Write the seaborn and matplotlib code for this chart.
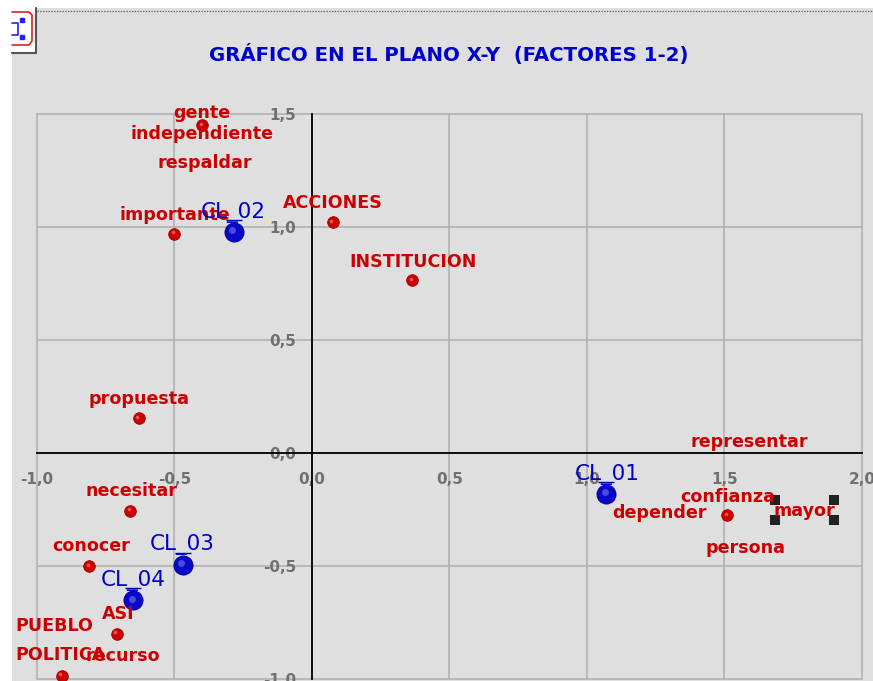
import pandas as pd
import numpy as np
import matplotlib.pyplot as plt
import matplotlib.patches as patches
from matplotlib.transforms import ScaledTranslation
import seaborn as sns

W, H = 873, 681

titulo = "GRÁFICO EN EL PLANO X-Y  (FACTORES 1-2)"

x_ticks = [-1.0, -0.5, 0.0, 0.5, 1.0, 1.5, 2.0]
y_ticks = [-1.0, -0.5, 0.0, 0.5, 1.0, 1.5]
x_tick_labels = ["-1,0", "-0,5", "0,0", "0,5", "1,0", "1,5", "2,0"]
y_tick_labels = ["-1,0", "-0,5", "0,0", "0,5", "1,0", "1,5"]

# puntos rojos (palabras)
pal_x = [-0.40, -0.50, 0.075, 0.365, -0.63, -0.66, -0.81, -0.71, -0.91, 1.51]
pal_y = [1.45, 0.97, 1.02, 0.765, 0.155, -0.255, -0.50, -0.80, -0.985, -0.275]

# puntos azules (clusters)
cl_x = [1.07, -0.285, -0.47, -0.65]
cl_y = [-0.18, 0.98, -0.495, -0.65]

# etiquetas rojas
pal_labels = ["gente", "independiente", "respaldar", "importante", "ACCIONES",
              "INSTITUCION", "propuesta", "representar", "confianza", "depender",
              "mayor", "persona", "necesitar", "conocer", "ASI", "PUEBLO",
              "POLITICA", "recurso"]
pal_lx = [-0.40, -0.40, -0.39, -0.498, 0.076, 0.367, -0.629, 1.589, 1.513, 1.265,
          1.789, 1.575, -0.658, -0.804, -0.705, -0.938, -0.913, -0.687]
pal_ly = [1.503, 1.41, 1.283, 1.053, 1.106, 0.845, 0.239, 0.049, -0.195, -0.265,
          -0.257, -0.42, -0.168, -0.412, -0.712, -0.765, -0.894, -0.898]

# etiquetas azules
cl_labels = ["CL_01", "CL_02", "CL_03", "CL_04"]
cl_lx = [1.073, -0.287, -0.473, -0.651]
cl_ly = [-0.093, 1.062, -0.407, -0.562]

# marcas negras de seleccion
sel_x = [1.684, 1.898, 1.684, 1.898]
sel_y = [-0.208, -0.208, -0.296, -0.296]

GRIS = "#DFDFDF"
ROJO = "#CC0000"
AZUL = "#0000CC"

sns.set_theme(style="whitegrid", rc={"axes.facecolor": GRIS, "grid.color": "#B2B2B2",
                                     "grid.linewidth": 1.2, "axes.edgecolor": "black"})
plt.rcParams["font.family"] = ["DejaVu Sans"]
plt.rcParams["font.weight"] = "bold"

fig = plt.figure(figsize=(W / 100, H / 100), dpi=100, facecolor="white")

# fondo y boton, en pixeles
bg = fig.add_axes([0, 0, 1, 1], zorder=0)
bg.set_xlim(0, W)
bg.set_ylim(H, 0)
bg.axis("off")
bg.add_patch(patches.Rectangle((12, 8), W - 12, H - 8, color=GRIS, lw=0))
bg.plot([37, W], [10.5, 10.5], color="#666666", lw=1, ls=(0, (1, 1)))
bg.add_patch(patches.Rectangle((12, 8), 24, 45, color="white", lw=0))
bg.plot([36, 36], [8, 53], color="#555555", lw=1.5)
bg.plot([12, 36], [53, 53], color="#555555", lw=1.5)
bg.plot([12, 29, 32, 32, 29, 12], [12, 12, 15, 41, 45, 45], color="#E02020", lw=1.2)
bg.plot([12, 18, 18, 12], [23, 23, 35, 35], color="#2020FF", lw=1.2)
bg.plot([22, 22], [20, 37], color="#2020FF", lw=0, marker="s", ms=2.5)
bg.text(448.5, 55, titulo, color=AZUL, fontsize=14.2, ha="center", va="center")

ax = fig.add_axes([37 / W, 2 / H, 825 / W, 565 / H], zorder=1)
ax.set_facecolor("none")

df_pal = pd.DataFrame({"x": pal_x, "y": pal_y})
df_cl = pd.DataFrame({"x": cl_x, "y": cl_y})
df_sel = pd.DataFrame({"x": sel_x, "y": sel_y})

# brillo desplazado un poco para que parezcan esferas
brillo = ax.transData + ScaledTranslation(-1 / 72, 1 / 72, fig.dpi_scale_trans)

sns.scatterplot(data=df_pal, x="x", y="y", color=ROJO, s=70, edgecolor="#A00000",
                linewidth=0.6, ax=ax, clip_on=False, zorder=3)
ax.scatter(pal_x, pal_y, s=7, color="#F05050", lw=0, transform=brillo, clip_on=False, zorder=4)
sns.scatterplot(data=df_cl, x="x", y="y", color="#0808C8", s=190, edgecolor="#000090",
                linewidth=0.6, ax=ax, clip_on=False, zorder=3)
ax.scatter(cl_x, cl_y, s=25, color="#4A4AE0", lw=0, transform=brillo, clip_on=False, zorder=4)
ax.scatter(cl_x, cl_y, s=120, marker="_", color="#0000AA", linewidth=1,
           transform=ax.transData + ScaledTranslation(0, 8.5 / 72, fig.dpi_scale_trans),
           clip_on=False, zorder=4)
sns.scatterplot(data=df_sel, x="x", y="y", color="#222222", marker="s", s=50, linewidth=0,
                ax=ax, clip_on=False, zorder=3)

ax.set_xlim(-1, 2)
ax.set_ylim(-1, 1.5)
ax.set_xticks(x_ticks)
ax.set_yticks(y_ticks)
ax.set_xticklabels(x_tick_labels, fontsize=11.5)
ax.set_yticklabels(y_tick_labels, fontsize=11.5)
ax.set_xlabel("")
ax.set_ylabel("")
ax.grid(True, clip_on=False)

for s in ["top", "right"]:
    ax.spines[s].set_visible(False)
for s in ["left", "bottom"]:
    ax.spines[s].set_position("zero")
    ax.spines[s].set_color("black")
    ax.spines[s].set_linewidth(1.3)
    ax.spines[s].set_zorder(2)
ax.tick_params(axis="x", direction="inout", length=9, width=1.2, color="black",
               labelcolor="#707070", pad=9)
ax.tick_params(axis="y", direction="inout", length=9, width=1.2, color="black",
               labelcolor="#707070", pad=7)

for lab, lx, ly in zip(pal_labels, pal_lx, pal_ly):
    ax.text(lx, ly, lab, color=ROJO, fontsize=12.6, ha="center", va="center",
            clip_on=False, zorder=5)
for lab, lx, ly in zip(cl_labels, cl_lx, cl_ly):
    ax.text(lx, ly, lab, color=AZUL, fontsize=15.5, fontweight="normal", ha="center",
            va="center", clip_on=False, zorder=5)

plt.savefig("out.png", dpi=100)
plt.close()
